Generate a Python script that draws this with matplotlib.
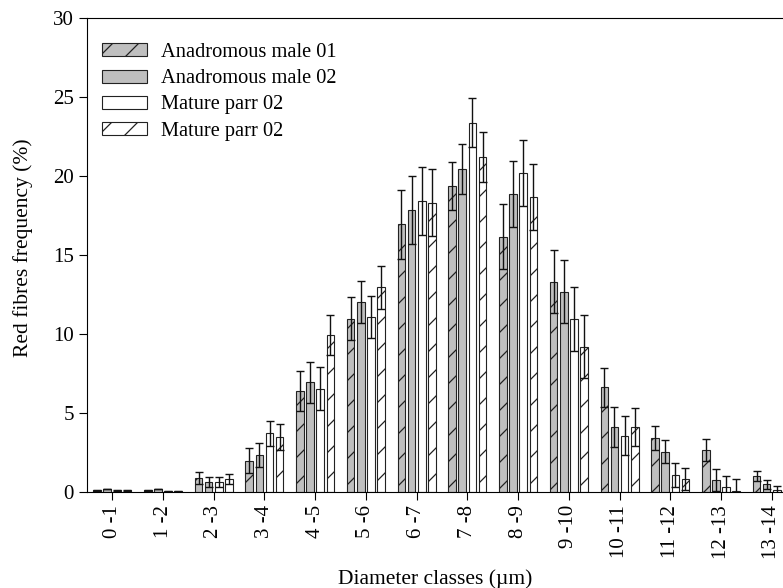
import matplotlib
matplotlib.use("Agg")
import matplotlib.pyplot as plt
import numpy as np

# Render at a lower dpi (with point sizes scaled up) so the hatch spacing matches the reference
DPI = 78.125
S = 100.0 / DPI

plt.rcParams['font.family'] = ['Liberation Serif', 'DejaVu Serif']
plt.rcParams['hatch.linewidth'] = 0.9 * S
plt.rcParams['axes.linewidth'] = 0.8 * S
plt.rcParams['xtick.major.width'] = 0.8 * S
plt.rcParams['ytick.major.width'] = 0.8 * S
plt.rcParams['xtick.major.pad'] = 3.5 * S
plt.rcParams['ytick.major.pad'] = 3.5 * S

categories = ["0 -1", "1 -2", "2 -3", "3 -4", "4 -5", "5 -6", "6 -7", "7 -8",
              "8 -9", "9 -10", "10 -11", "11 -12", "12 -13", "13 -14"]
series_names = ["Anadromous male 01", "Anadromous male 02", "Mature parr 02", "Mature parr 02"]

anad01 = [0.10, 0.10, 0.90, 1.98, 6.39, 10.97, 16.94, 19.37, 16.16, 13.31, 6.62, 3.44, 2.66, 1.01]
anad02 = [0.20, 0.20, 0.65, 2.32, 6.94, 12.00, 17.85, 20.44, 18.84, 12.68, 4.09, 2.55, 0.76, 0.49]
parr02a = [0.10, 0.05, 0.65, 3.71, 6.54, 11.08, 18.40, 23.38, 20.20, 10.93, 3.57, 1.08, 0.30, 0.13]
parr02b = [0.10, 0.05, 0.82, 3.50, 9.92, 12.95, 18.31, 21.20, 18.67, 9.20, 4.09, 0.82, 0.08, 0.10]

err01 = [0.02, 0.02, 0.38, 0.78, 1.29, 1.35, 2.17, 1.53, 2.07, 2.01, 1.25, 0.76, 0.71, 0.32]
err02 = [0.02, 0.02, 0.32, 0.76, 1.31, 1.33, 2.15, 1.59, 2.08, 2.00, 1.27, 0.74, 0.72, 0.29]
errp_a = [0.02, 0.02, 0.32, 0.78, 1.35, 1.32, 2.15, 1.56, 2.08, 2.02, 1.26, 0.76, 0.70, 0.25]
errp_b = [0.02, 0.02, 0.32, 0.82, 1.28, 1.35, 2.13, 1.57, 2.09, 2.00, 1.21, 0.72, 0.74, 0.20]

values = [anad01, anad02, parr02a, parr02b]
errors = [err01, err02, errp_a, errp_b]
facecolors = ["#bfbfbf", "#bfbfbf", "white", "white"]
hatches = ["/", None, None, "/"]

fig = plt.figure(figsize=(783 / DPI, 588 / DPI), dpi=DPI)
ax = fig.add_axes([0.111, 0.1633, 0.907, 0.8061])

x = np.arange(len(categories))
step = 0.2
width = 0.15
offsets = [-1.5, -0.5, 0.5, 1.5]
for vals, errs, fc, h, name, off in zip(values, errors, facecolors, hatches, series_names, offsets):
    ax.bar(x + off * step, vals, width, yerr=errs, color=fc, edgecolor="#222222",
           linewidth=0.8 * S, hatch=h, label=name,
           error_kw=dict(ecolor="#111111", elinewidth=1.0 * S, capsize=3 * S, capthick=1.0 * S))

ax.set_xlim(-0.5, 13.5)
ax.set_ylim(0, 30)
ax.set_yticks(np.arange(0, 31, 5))
ax.set_xticks(x)
ax.set_xticklabels(categories, rotation=90, fontsize=15 * S)
ax.tick_params(axis='y', labelsize=15 * S, direction='out', length=6 * S)
ax.tick_params(axis='x', direction='out', length=6 * S)
ax.spines['right'].set_visible(False)
ax.set_ylabel("Red fibres frequency (%)", fontsize=15.5 * S)
ax.yaxis.set_label_coords(-0.076, 0.515)
ax.set_xlabel("Diameter classes (\u00b5m)", fontsize=15.5 * S, labelpad=7 * S)
ax.xaxis.label.set_x(0.49)

leg = ax.legend(loc='upper left', bbox_to_anchor=(0.021, 0.947), frameon=False, fontsize=14.7 * S,
                handlelength=2.2, handleheight=0.6, labelspacing=0.35, borderaxespad=0.0,
                borderpad=0.0, handletextpad=0.7)

fig.savefig("out.png", dpi=DPI)
